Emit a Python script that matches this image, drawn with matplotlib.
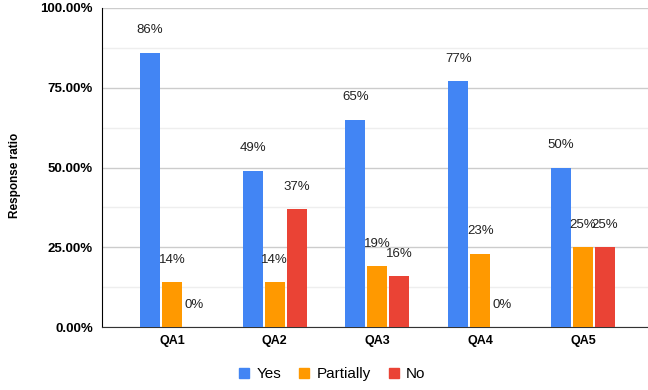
import numpy as np
import matplotlib.pyplot as plt
from matplotlib.lines import Line2D
from matplotlib.ticker import MultipleLocator, FuncFormatter

plt.rcParams['font.family'] = ['Liberation Sans', 'DejaVu Sans']

questions = ['QA1', 'QA2', 'QA3', 'QA4', 'QA5']
series_names = ['Yes', 'Partially', 'No']
yes = [86, 49, 65, 77, 50]
partially = [14, 14, 19, 23, 25]
no = [0, 37, 16, 0, 25]
colors = ['#4285F4', '#FF9900', '#EA4335']

fig = plt.figure(figsize=(6.48, 3.9), dpi=100)
ax = fig.add_axes([0.1574, 0.1615, 0.8426, 0.8180])

x = np.arange(len(questions))
width = 0.195
step = 0.214

for i, (vals, col) in enumerate(zip([yes, partially, no], colors)):
    pos = x + (i - 1) * step
    ax.bar(pos, vals, width=width, color=col, zorder=3)
    for px, v in zip(pos, vals):
        ax.annotate(f'{v}%', (px, v), xytext=(0, 16), textcoords='offset points',
                    ha='center', va='center', fontsize=9.5, color='#222222', zorder=4)

ax.set_xlim(-0.681, 4.633)
ax.set_ylim(0, 100)
ax.set_xticks(x)
ax.set_xticklabels(questions, fontweight='bold', fontsize=9)
ax.yaxis.set_major_locator(MultipleLocator(25))
ax.yaxis.set_minor_locator(MultipleLocator(12.5))
ax.yaxis.set_major_formatter(FuncFormatter(lambda v, _: f'{v:.2f}%'))
for lab in ax.get_yticklabels():
    lab.set_fontweight('bold')
ax.tick_params(axis='y', which='both', length=0, labelsize=9.5, pad=6.5)
ax.tick_params(axis='x', length=0, pad=6)

ax.grid(axis='y', which='major', color='#cccccc', linewidth=1, zorder=0)
ax.grid(axis='y', which='minor', color='#eeeeee', linewidth=1, zorder=0)
for side in ['top', 'right']:
    ax.spines[side].set_visible(False)
ax.spines['left'].set_color('#000000')
ax.spines['bottom'].set_color('#333333')

fig.text(0.023, 1 - 175 / 390, 'Response ratio', rotation=90, ha='center', va='center',
         fontsize=8.5, fontweight='bold')

handles = [Line2D([], [], marker='s', linestyle='none', markersize=7.5,
                  markerfacecolor=c, markeredgecolor=c) for c in colors]
fig.legend(handles, series_names, loc='center', bbox_to_anchor=(331 / 648, 0.041),
           ncol=3, frameon=False, fontsize=11, handletextpad=0.3, columnspacing=1.0,
           handlelength=1.0)

fig.savefig('out.png', dpi=100)
